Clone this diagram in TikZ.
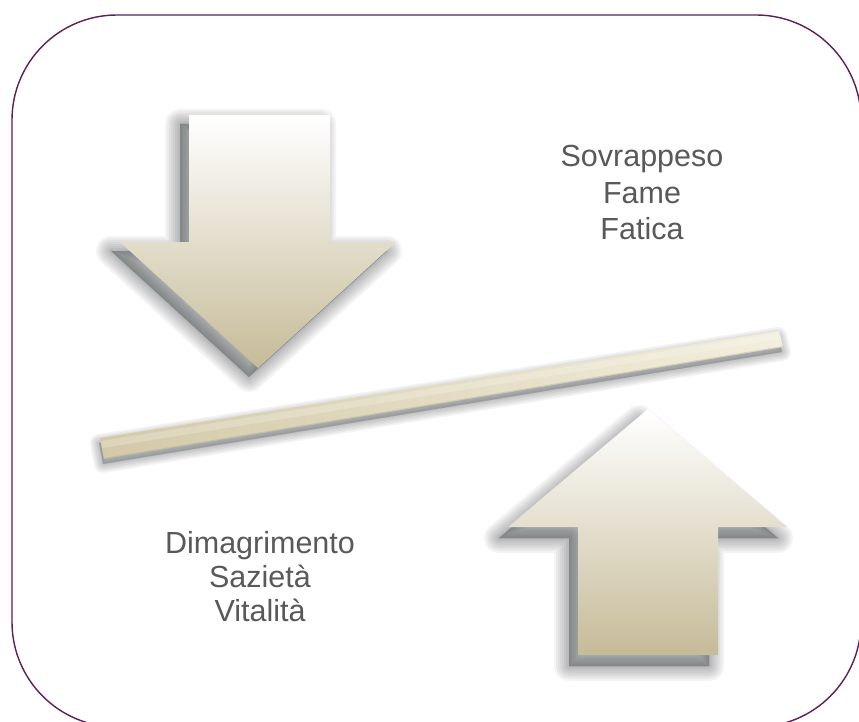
\documentclass[tikz,border=0pt]{standalone}
\usepackage{fontspec}
\setmainfont{Liberation Sans}
\definecolor{bordercol}{HTML}{5C1F5A}
\definecolor{arrowtan}{HTML}{C6BB98}
\definecolor{arrowcream}{HTML}{F1ECD6}
\definecolor{barleft}{HTML}{D3C9A8}
\definecolor{barright}{HTML}{F3EFDD}
\definecolor{shadowgray}{HTML}{30353A}
\definecolor{textgray}{HTML}{595959}
\newcommand\downpath{(189,115) -- (330,115) -- (330,242) -- (396,242) -- (258,368) -- (120,242) -- (189,242) -- cycle}
\newcommand\uppath{(578,655) -- (718,655) -- (718,527) -- (787,527) -- (648,409) -- (508,527) -- (578,527) -- cycle}
\newcommand\barpath{(100,438) -- (779,331) -- (783,347) -- (104,459) -- cycle}
\newcommand\softshadow[3]{%
  \foreach \w in {#3}{%
    \fill[shadowgray, draw=shadowgray, line width=\w pt, line join=round, opacity=0.05, shift={#1}] #2;
  }}
\tikzset{
  label text/.style={text=textgray, font=\fontsize{30.5pt}{36pt}\selectfont, inner sep=0pt, anchor=base}
}
\begin{document}
\begin{tikzpicture}[x=1pt,y=-1pt]
\useasboundingbox (0,0) rectangle (859,722);
\fill[white] (0,0) rectangle (859,722);
% frame
\draw[bordercol, line width=1.4pt, rounded corners=105pt] (12,15) rectangle (861,727);
% shadows
\softshadow{(-9,9)}{\downpath}{30,26,22,18,14,10,6,3}
\softshadow{(-9,11)}{\uppath}{30,26,22,18,14,10,6,3}
\softshadow{(-1,5)}{\barpath}{18,15,12,9,6,3}
% down arrow
\shade[top color=white, middle color=arrowcream, bottom color=arrowtan] \downpath;
% up arrow
\shade[top color=white, middle color=arrowcream, bottom color=arrowtan] \uppath;
% bar
\shade[left color=barleft, right color=barright] \barpath;
\fill[white, opacity=0.22] (101,441) -- (779,333) -- (781,339) -- (102,448) -- cycle;
\draw[arrowtan!75!black, opacity=0.25, line width=1pt] (104,458.5) -- (783,346.5);
% texts
\node[label text] (t1) at (642,167) {Sovrappeso};
\node[label text] (t2) at (642,204) {Fame};
\node[label text] (t3) at (642,240) {Fatica};
\node[label text] (b1) at (260,553) {Dimagrimento};
\node[label text] (b2) at (260,587) {Sazietà};
\node[label text] (b3) at (260,621) {Vitalità};
\end{tikzpicture}
\end{document}
